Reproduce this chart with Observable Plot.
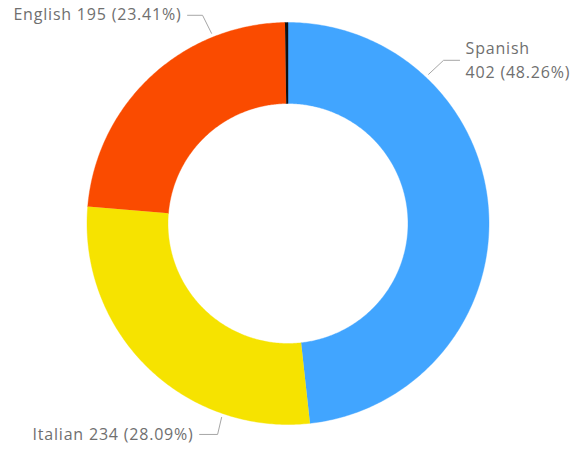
<!DOCTYPE html>
<html><head><meta charset="utf-8">
<script src="https://cdn.jsdelivr.net/npm/d3@7"></script>
<script src="https://cdn.jsdelivr.net/npm/@observablehq/plot@0.6"></script>
<style>
html,body{margin:0;padding:0;background:#fff}
#chart svg{display:block}
#chart svg text{letter-spacing:0.8px}
</style>
</head><body><div id="chart"></div>
<script>
// ---- data ----
const categories = ["Spanish", "Italian", "English", "Other"];
const values = [402, 234, 195, 2];
const colors = ["#41A5FF", "#F6E300", "#FA4B00", "#111111"];
const showLabel = [true, true, true, false];

// ---- layout (not data) ----
const W = 584, H = 453, cx = 287.5, cy = 223, R = 201, R0 = 120;
const labelLayout = {
  English: {angle: 338.1, dx: -9, dy: -18, tail: -15, lines: 1},
  Spanish: {angle: 43.3, dx: 15, dy: -14, tail: 16, lines: 2},
  Italian: {angle: 198.9, dx: -4, dy: 17, tail: -18, lines: 1}
};

const total = d3.sum(values);
const rows = categories.map((c, i) => ({name: c, value: values[i], label: showLabel[i]}));
const arcs = d3.pie().sort(null).value(d => d.value)(rows);

const pt = (r, a) => [r * Math.sin(a), -r * Math.cos(a)];
const poly = [];
for (const a of arcs) {
  const n = Math.max(2, Math.ceil((a.endAngle - a.startAngle) / 0.01));
  const pts = [];
  for (let k = 0; k <= n; k++) pts.push(pt(R, a.startAngle + (a.endAngle - a.startAngle) * k / n));
  for (let k = n; k >= 0; k--) pts.push(pt(R0, a.startAngle + (a.endAngle - a.startAngle) * k / n));
  pts.forEach(([x, y]) => poly.push({name: a.data.name, x, y}));
}

const leaders = [], texts = [];
for (const a of arcs) {
  if (!a.data.label) continue;
  const L = labelLayout[a.data.name];
  const pct = (a.data.value / total * 100).toFixed(2) + "%";
  const s = pt(R + 4, L.angle * Math.PI / 180);
  const e = [s[0] + L.dx, s[1] + L.dy];
  const t = [e[0] + L.tail, e[1]];
  [s, e, t].forEach(([x, y]) => leaders.push({name: a.data.name, x, y}));
  const anchor = L.tail < 0 ? "end" : "start";
  const tx = t[0] + (L.tail < 0 ? -6 : 6);
  if (L.lines === 2) {
    texts.push({x: tx, y: t[1] - 11, text: a.data.name, anchor});
    texts.push({x: tx, y: t[1] + 13, text: `${a.data.value} (${pct})`, anchor});
  } else {
    texts.push({x: tx, y: t[1], text: `${a.data.name} ${a.data.value} (${pct})`, anchor});
  }
}

const chart = Plot.plot({
  width: W, height: H,
  margin: 0,
  x: {domain: [-cx, W - cx], range: [0, W], axis: null},
  y: {domain: [-cy, H - cy], range: [0, H], axis: null},
  color: {domain: categories, range: colors},
  style: {fontFamily: "'Open Sans', sans-serif"},
  marks: [
    Plot.line(poly, {x: "x", y: "y", z: "name", fill: "name", stroke: "name", strokeWidth: 0.4, curve: "linear"}),
    Plot.line(leaders, {x: "x", y: "y", z: "name", stroke: "#a6a6a6", strokeWidth: 1}),
    Plot.text(texts.filter(d => d.anchor === "end"), {x: "x", y: "y", text: "text", textAnchor: "end", fill: "#6f6f6f", fontSize: 16, lineAnchor: "middle"}),
    Plot.text(texts.filter(d => d.anchor === "start"), {x: "x", y: "y", text: "text", textAnchor: "start", fill: "#6f6f6f", fontSize: 16, lineAnchor: "middle"})
  ]
});
document.getElementById("chart").append(chart);
</script>
</body></html>
